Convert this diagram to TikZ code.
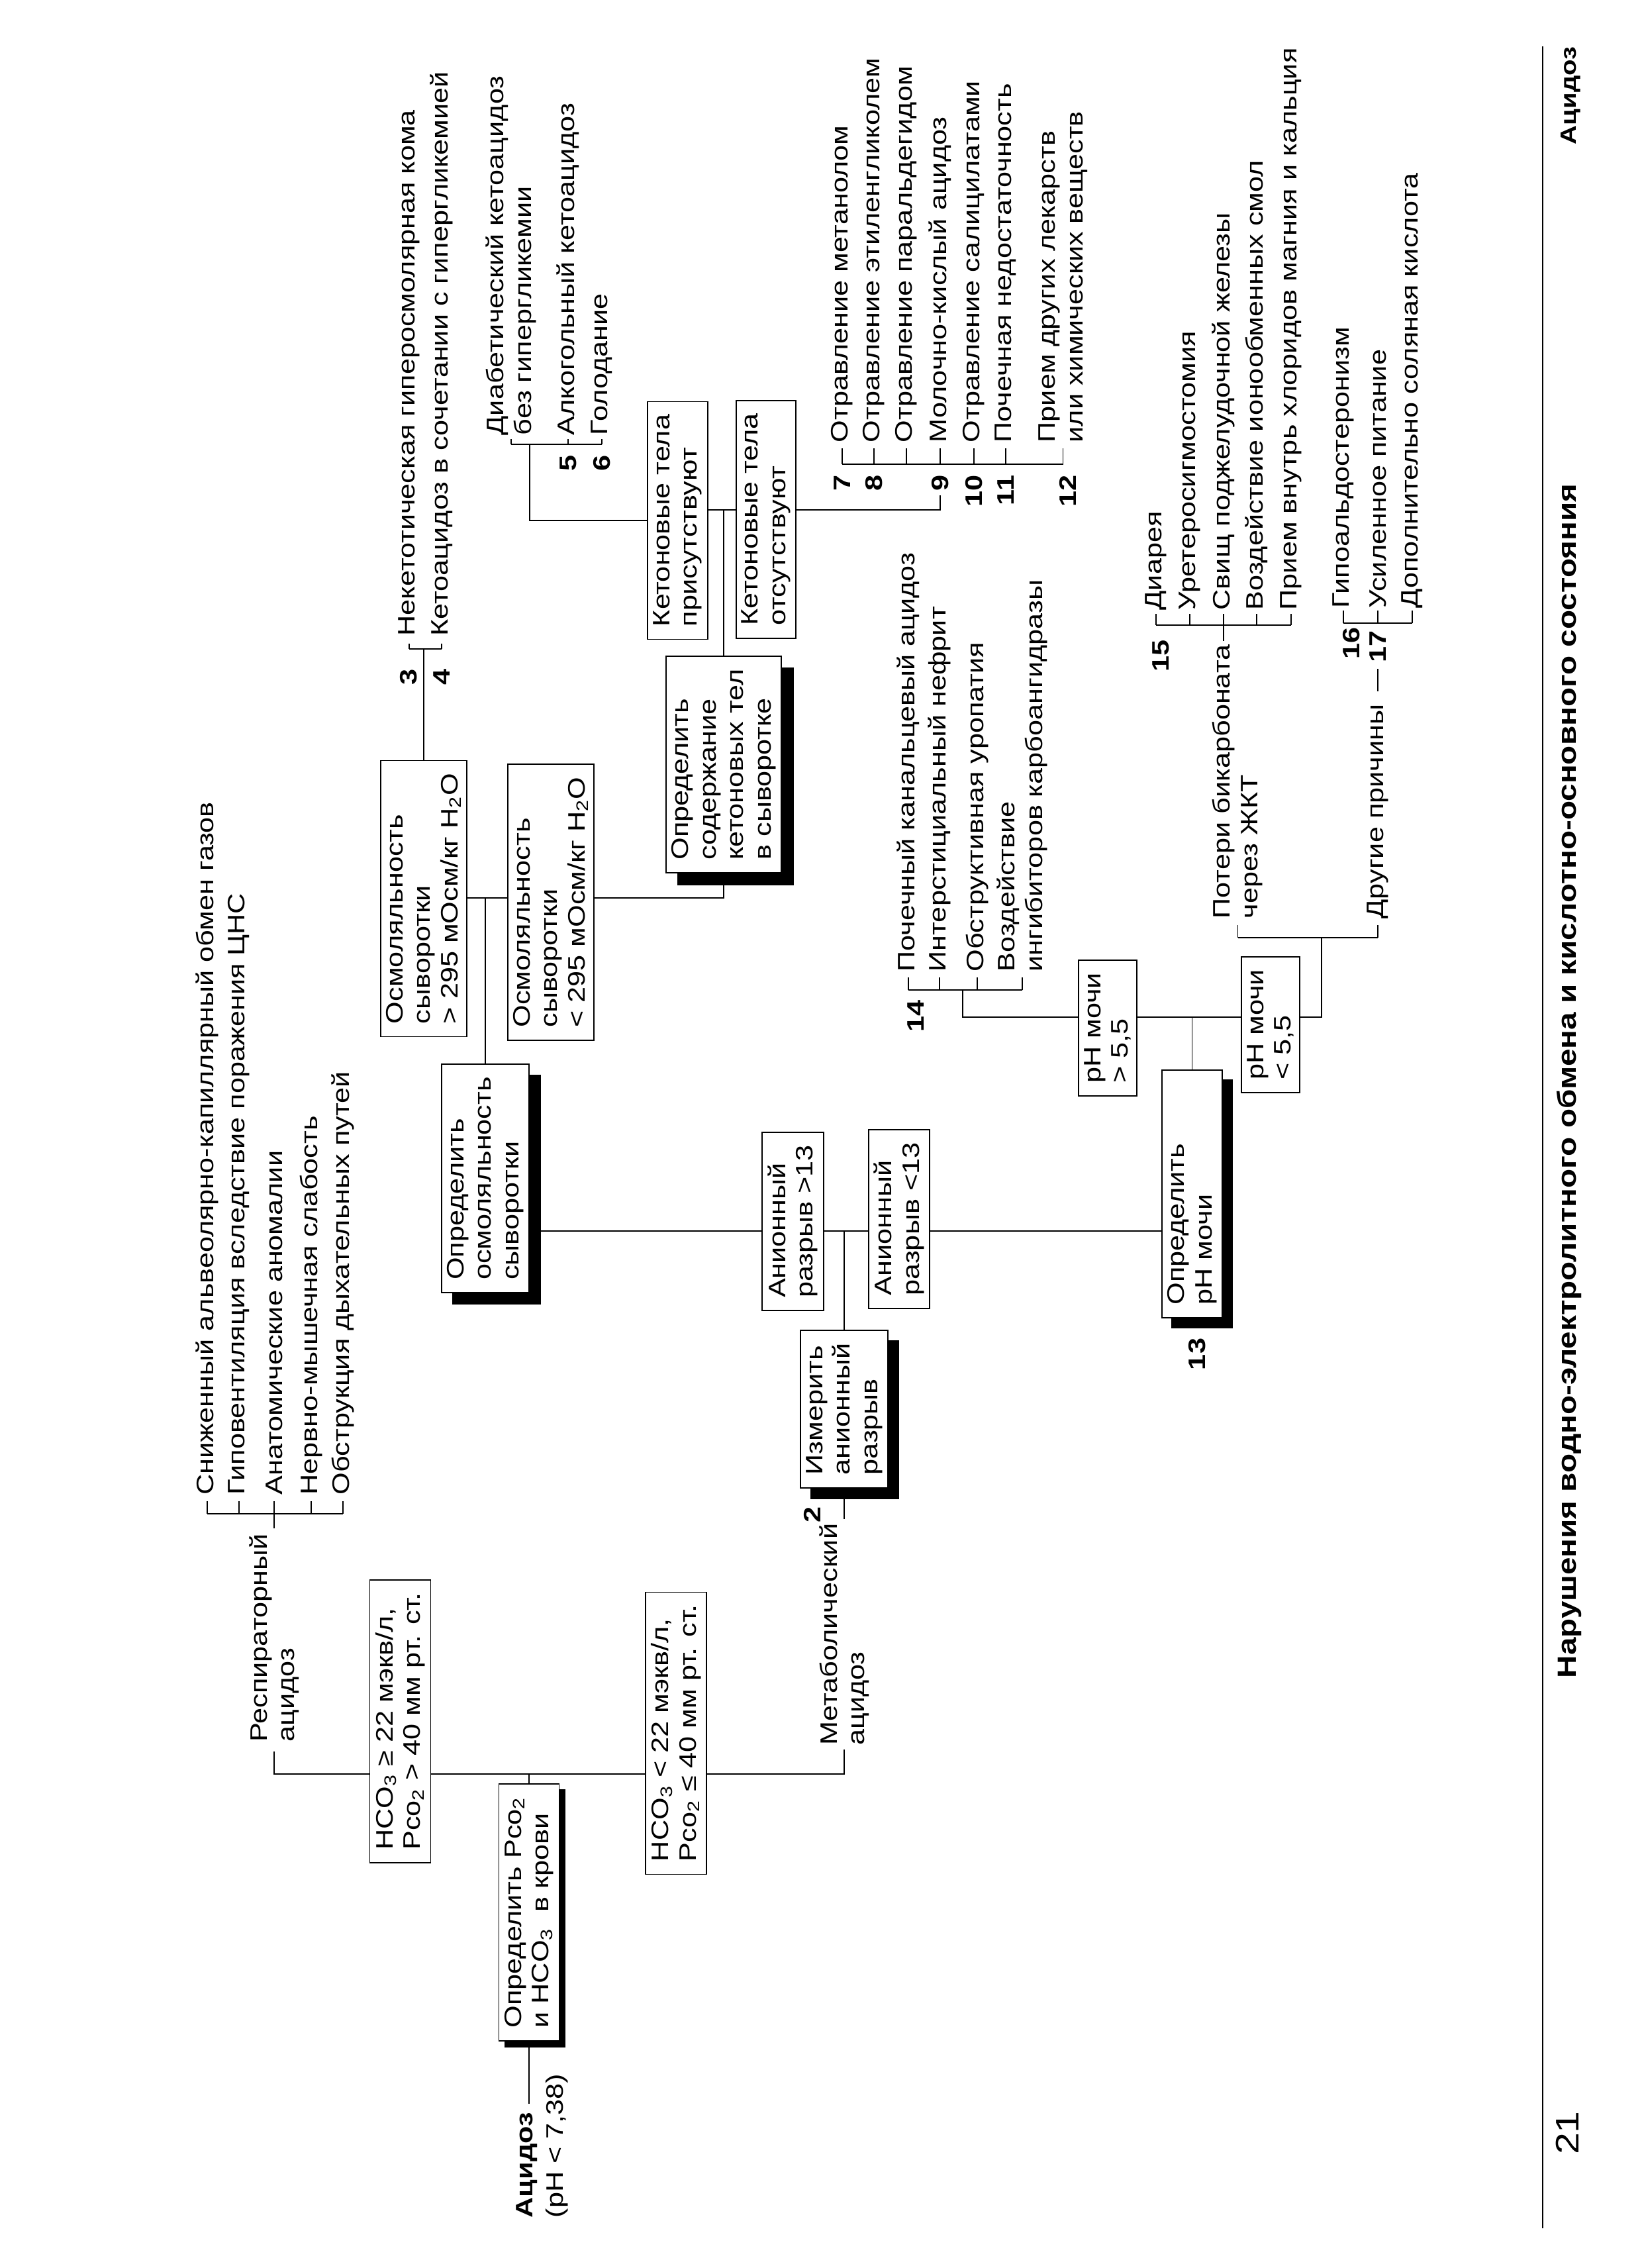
\documentclass[tikz,border=0pt]{standalone}
\usepackage{fontspec}
\setmainfont{Liberation Sans}[FakeStretch=1.2]
\usetikzlibrary{calc,backgrounds}

\newcommand{\diagfont}{\fontsize{10.25}{11.8}\selectfont}
\tikzset{
  box/.style={draw, fill=white, line width=0.5pt, align=left, inner xsep=5.5pt, inner ysep=2.4pt, font=\diagfont},
  entry/.style={anchor=west, inner sep=0pt, align=left, font=\diagfont},
  num/.style={inner sep=0pt, font=\diagfont\bfseries},
  wire/.style={line width=0.5pt},
}
\newcommand{\boxshadow}[2]{\fill ($(#1.south west)+(-#2,-#2)$) rectangle ($(#1.north east)+(-#2,-#2)$);}

\begin{document}
\begin{tikzpicture}
\useasboundingbox (0,0) rectangle (24.8,34.25);
\begin{scope}[shift={(24.8,0)}, rotate=90, transform shape]

% Start: blood gases
\node[entry, font=\diagfont\bfseries] (acid) at (0.75,16.84) {Ацидоз};
\node[entry] (acidph) at (0.75,16.39) {(pH < 7,38)};
\node[box] (pco) at (5.37,16.81) {Определить Pco\textsubscript{2}\\и HCO\textsubscript{3}\ \ в крови};
\node[box] (hhi) at (8.255,18.755) {HCO\textsubscript{3} ≥ 22 мэкв/л,\\Pco\textsubscript{2} > 40 мм рт. ст.};
\node[box] (hlo) at (8.075,14.59) {HCO\textsubscript{3} < 22 мэкв/л,\\Pco\textsubscript{2} ≤ 40 мм рт. ст.};
\node[entry] (resp) at (7.94,20.66) {Респираторный\\ацидоз};
\node[entry] (meta) at (7.885,12.05) {Метаболический\\ацидоз};

% Respiratory causes
\foreach \y/\t [count=\i] in {21.67/Сниженный альвеолярно-капиллярный обмен газов,
    21.19/Гиповентиляция вследствие поражения ЦНС, 20.66/Анатомические аномалии,
    20.10/Нервно-мышечная слабость, 19.62/Обструкция дыхательных путей}
  \node[entry] (rc\i) at (11.67,\y) {\t};

% Anion gap
\node[num] (n2) at (11.38,12.53) {2};
\node[box] (izm) at (12.97,12.05) {Измерить\\анионный\\разрыв};
\node[box] (ghi) at (15.805,12.825) {Анионный\\разрыв >13};
\node[box] (glo) at (15.84,11.22) {Анионный\\разрыв <13};

% Osmolality
\node[box] (osm) at (16.455,17.47) {Определить\\осмоляльность\\сыворотки};
\node[box] (ohi) at (20.68,18.40) {Осмоляльность\\сыворотки\\> 295 мОсм/кг H\textsubscript{2}O};
\node[box] (olo) at (20.625,16.48) {Осмоляльность\\сыворотки\\< 295 мОсм/кг H\textsubscript{2}O};
\node[entry] (c3) at (24.64,18.62) {Некетотическая гиперосмолярная кома};
\node[entry] (c4) at (24.64,18.13) {Кетоацидоз в сочетании с гипергликемией};
\node[num, anchor=east] (n3) at (24.15,18.63) {3};
\node[num, anchor=east] (n4) at (24.15,18.13) {4};

% Ketone bodies
\node[box] (kdet) at (22.705,13.87) {Определить\\содержание\\кетоновых тел\\в сыворотке};
\node[box] (kyes) at (26.39,14.565) {Кетоновые тела\\присутствуют};
\node[box] (kno) at (26.405,13.23) {Кетоновые тела\\отсутствуют};
\node[entry] (c5a) at (27.67,17.08) {Диабетический кетоацидоз\\без гипергликемии};
\node[entry] (c5) at (27.67,16.22) {Алкогольный кетоацидоз};
\node[entry] (c6) at (27.67,15.71) {Голодание};
\node[num, anchor=east] (n5) at (27.38,16.22) {5};
\node[num, anchor=east] (n6) at (27.38,15.71) {6};
\foreach \y/\t [count=\i] in {12.08/Отравление метанолом, 11.60/Отравление этиленгликолем,
    11.11/Отравление паральдегидом, 10.60/Молочно-кислый ацидоз, 10.09/Отравление салицилатами,
    9.61/Почечная недостаточность, 8.745/{Прием других лекарств\\или химических веществ}}
  \node[entry] (t\i) at (27.56,\y) {\t};
\foreach \y/\n in {12.08/7, 11.60/8, 10.60/9, 10.09/10, 9.61/11, 8.67/12}
  \node[num, anchor=east] (n\n) at (27.08,\y) {\n};

% Urine pH
\node[box, text width=3.35cm] (phm) at (16.22,6.795) {Определить\\pH мочи};
\node[num] (n13) at (13.8,6.72) {13};
\node[box] (phhi) at (18.725,8.07) {pH мочи\\> 5,5};
\node[box] (phlo) at (18.775,5.61) {pH мочи\\< 5,5};
\foreach \y/\t [count=\i] in {11.08/Почечный канальцевый ацидоз, 10.61/Интерстициальный нефрит,
    10.04/Обструктивная уропатия, 9.36/{Воздействие\\ингибиторов карбоангидразы}}
  \node[entry] (u\i) at (19.57,\y) {\t};
\node[num, anchor=east] (n14) at (19.15,10.97) {14};
\node[entry] (loss) at (20.37,6.32) {Потери бикарбоната};
\node[entry] (loss2) at (20.37,5.89) {через ЖКТ};
\node[entry] (other) at (20.37,3.99) {Другие причины};
\foreach \y/\t [count=\i] in {7.34/Диарея, 6.83/Уретеросигмостомия, 6.32/Свищ поджелудочной железы,
    5.82/Воздействие ионообменных смол, 5.30/Прием внутрь хлоридов магния и кальция}
  \node[entry] (g\i) at (25.03,\y) {\t};
\node[num, anchor=east] (n15) at (24.59,7.27) {15};
\foreach \y/\t [count=\i] in {4.51/Гипоальдостеронизм, 3.99/Усиленное питание, 3.47/Дополнительно соляная кислота}
  \node[entry] (h\i) at (25.06,\y) {\t};
\node[num, anchor=east] (n16) at (24.78,4.39) {16};
\node[num, anchor=east] (n17) at (24.73,3.99) {17};

% Page footer
\node[anchor=west, inner sep=0pt, font=\fontsize{11.3}{13}\selectfont\bfseries] (title) at (8.9,1.10) {Нарушения водно-электролитного обмена и кислотно-основного состояния};
\node[inner sep=0pt, font=\fontsize{14}{16}\selectfont] (page) at (2.04,1.13) {21};
\node[anchor=east, inner sep=0pt, font=\fontsize{9.5}{11}\selectfont\bfseries] (head) at (33.55,1.08) {Ацидоз};

% bus lines
\coordinate (b1) at (7.46,0);
\coordinate (rb) at (11.39,0);
\coordinate (ab) at (15.66,0);
\coordinate (ob) at (20.69,0);
\coordinate (tb) at (24.45,0);
\coordinate (kb) at (26.55,0);
\coordinate (fb) at (27.54,0);
\coordinate (sb) at (27.24,0);
\coordinate (pb) at (18.89,0);
\coordinate (ub) at (19.30,0);
\coordinate (lb) at (20.09,0);
\coordinate (gb) at (24.81,0);
\coordinate (hb) at (24.84,0);
\coordinate (kturn) at (0,16.80);
\coordinate (uturn) at (0,10.26);
\coordinate (pturn) at (0,4.84);

\begin{scope}[on background layer]
\fill[white] (0,0) rectangle (34.25,24.8);

% shadows
\boxshadow{pco}{0.09}
\boxshadow{osm}{0.17}
\boxshadow{izm}{0.16}
\boxshadow{kdet}{0.18}
\boxshadow{phm}{0.15}

% blood gas branch
\draw[wire] ($(acid.east |- pco.west)+(0.12,0)$) -- (pco.west);
\draw[wire] (pco.east) -- (pco.east -| b1);
\draw[wire] ($(resp.west)+(-0.14,0)$) -- (b1 |- resp.west) -- (b1 |- meta.west) -- ($(meta.west)+(-0.06,0)$);
\draw[wire] ($(resp.east)+(0.08,0)$) -- (rb |- resp.east);
\draw[wire] (rb |- rc1.west) -- (rb |- rc5.west);
\foreach \i in {1,...,5} \draw[wire] (rb |- rc\i.west) -- ($(rc\i.west)+(-0.09,0)$);

% anion gap branch
\draw[wire] ($(meta.east)+(0.06,0)$) -- (izm.west);
\draw[wire] (izm.east) -- (izm.east -| ab);
\draw[wire] (ab |- osm.south) -- (ab |- phm.north);

% osmolality branch
\draw[wire] (osm.east) -- (osm.east -| ob);
\draw[wire] (ob |- ohi.south) -- (ob |- kdet.west) -- (kdet.west);
\draw[wire] (ohi.east) -- (ohi.east -| tb);
\draw[wire] (tb |- c3.west) -- (tb |- c4.west);
\foreach \c in {c3,c4} \draw[wire] (tb |- \c.west) -- ($(\c.west)+(-0.11,0)$);

% ketone branch
\draw[wire] (kdet.east) -- (kdet.east -| kb);
\draw[wire] (kb |- kyes.south) -- (kb |- n9.west) -- ($(n9.west)+(-0.06,0)$);
\draw[wire] (kyes.north) -- (kyes.north |- kturn) -- (fb |- kturn);
\draw[wire] (fb |- c5a.west) -- (fb |- c6.west);
\foreach \c in {c5a,c5,c6} \draw[wire] (fb |- \c.west) -- ($(\c.west)+(-0.05,0)$);
\draw[wire] (sb |- t1.west) -- (sb |- t7.west);
\foreach \i in {1,...,7} \draw[wire] (sb |- t\i.west) -- ($(t\i.west)+(-0.08,0)$);

% urine pH branch
\draw[wire] (phm.east) -- (phm.east -| pb);
\draw[wire] (pb |- phhi.south) -- (pb |- pturn) -- (lb |- pturn);
\draw[wire] (pb |- phhi.north) -- (pb |- uturn) -- (ub |- uturn);
\draw[wire] (ub |- u1.west) -- (ub |- u4.west);
\foreach \i in {1,...,4} \draw[wire] (ub |- u\i.west) -- ($(u\i.west)+(-0.08,0)$);
\coordinate (lossmid) at ($(loss.west)!0.5!(loss2.west)$);
\draw[wire] (lb |- lossmid) -- (lb |- other.west);
\draw[wire] (lb |- lossmid) -- ($(lossmid)+(-0.09,0)$);
\draw[wire] (lb |- other.west) -- ($(other.west)+(-0.09,0)$);
\draw[wire] ($(loss.east)+(0.05,0)$) -- ($(g3.west)+(-0.05,0)$);
\draw[wire] (gb |- g1.west) -- (gb |- g5.west);
\foreach \i in {1,...,5} \draw[wire] (gb |- g\i.west) -- ($(g\i.west)+(-0.05,0)$);
\draw[wire] ($(other.east)+(0.19,0)$) -- ($(n17.west)+(-0.09,0)$);
\draw[wire] (hb |- h1.west) -- (hb |- h3.west);
\foreach \i in {1,2,3} \draw[wire] (hb |- h\i.west) -- ($(h\i.west)+(-0.03,0)$);

% footer rule
\draw[line width=0.5pt] (0.6,1.50) -- (33.55,1.50);
\end{scope}

\end{scope}
\end{tikzpicture}
\end{document}
